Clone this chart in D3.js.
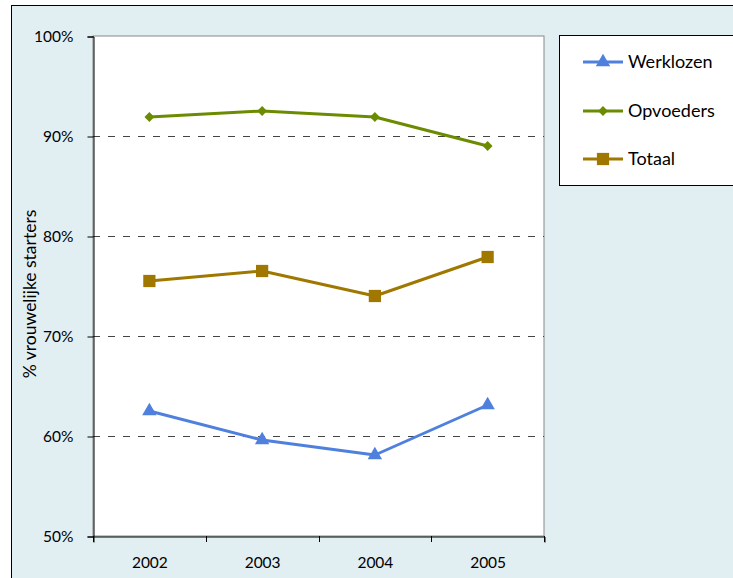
<!DOCTYPE html>
<html><head><meta charset="utf-8">
<script src="https://cdn.jsdelivr.net/npm/d3@7"></script>
<style>body{margin:0;background:#fff;font-family:Lato,"Open Sans",sans-serif;}</style>
</head><body>
<svg id="c" width="733" height="578"></svg>
<script>
const years = ["2002","2003","2004","2005"];
const werklozen = [62.5, 59.6, 58.1, 63.1];
const opvoeders = [91.9, 92.5, 91.9, 89.0];
const totaal = [75.5, 76.5, 74.0, 77.9];
const yTicks = [50, 60, 70, 80, 90, 100];
const seriesNames = ["Werklozen", "Opvoeders", "Totaal"];
const seriesColors = ["#4f80de", "#6b8c00", "#a07800"];
const seriesValues = [werklozen, opvoeders, totaal];
const markerTypes = [d3.symbolTriangle, d3.symbolSquare, d3.symbolSquare];
const markerRot = [0, 45, 0];
const markerSizes = [90, 48, 150];

const svg = d3.select("#c");
svg.append("rect").attr("x",11.5).attr("y",5.5).attr("width",740).attr("height",590)
  .attr("fill","#e1eef2").attr("stroke","#000").attr("stroke-width",1);

const L = 93, R = 544, T = 36, B = 536;
const x = d3.scaleBand().domain(years).range([L, R]);
const y = d3.scaleLinear().domain([50, 100]).range([B, T]);

svg.append("rect").attr("x",L).attr("y",T).attr("width",R-L).attr("height",B-T)
  .attr("fill","#fff").attr("stroke","#888").attr("stroke-width",1);

svg.append("g").selectAll("line").data(yTicks.filter(d=>d>50&&d<100)).join("line")
  .attr("x1",L).attr("x2",R).attr("y1",d=>y(d)+0.5).attr("y2",d=>y(d)+0.5)
  .attr("stroke","#444").attr("stroke-width",1).attr("stroke-dasharray","7,8");

const fmt = d=>d+"%";
const yAxis = svg.append("g").attr("transform",`translate(${L+0.5},0.5)`)
  .call(d3.axisLeft(y).tickValues(yTicks).tickFormat(fmt).tickSize(6).tickPadding(14));
yAxis.select(".domain").attr("stroke","#000");
yAxis.selectAll("text").attr("font-size",15.5).attr("fill","#000").attr("font-family","Lato, sans-serif");

const xAxis = svg.append("g").attr("transform",`translate(0.5,${B+0.5})`)
  .call(d3.axisBottom(x).tickSize(6).tickPadding(14));
xAxis.selectAll(".tick line").remove();
xAxis.selectAll("text").attr("font-size",15.5).attr("fill","#000").attr("font-family","Lato, sans-serif");
xAxis.select(".domain").attr("stroke","#000");
const edges = [L, ...years.map(d=>x(d)+x.bandwidth())];
svg.append("g").selectAll("line").data(edges).join("line")
  .attr("x1",d=>Math.round(d)+0.5).attr("x2",d=>Math.round(d)+0.5)
  .attr("y1",B).attr("y2",B+6).attr("stroke","#000");

svg.append("text").attr("transform",`translate(36,${(T+B)/2+8}) rotate(-90)`)
  .attr("text-anchor","middle").attr("font-size",17.5).attr("font-family","Lato, sans-serif")
  .text("% vrouwelijke starters");

const line = d3.line().x((d,i)=>x(years[i])+x.bandwidth()/2).y(d=>y(d));
seriesValues.forEach((vals,k)=>{
  svg.append("path").datum(vals).attr("d",line).attr("fill","none")
    .attr("stroke",seriesColors[k]).attr("stroke-width",3).attr("stroke-linejoin","round");
  svg.append("g").selectAll("path").data(vals).join("path")
    .attr("transform",(d,i)=>`translate(${x(years[i])+x.bandwidth()/2},${y(d)}) rotate(${markerRot[k]})`)
    .attr("d",d3.symbol().type(markerTypes[k]).size(markerSizes[k]))
    .attr("fill",seriesColors[k]);
});

const lg = svg.append("g");
lg.append("rect").attr("x",559.5).attr("y",35.5).attr("width",200).attr("height",150)
  .attr("fill","#fff").attr("stroke","#000");
const rowsY = [62, 111, 159];
seriesNames.forEach((n,k)=>{
  lg.append("line").attr("x1",583).attr("x2",623).attr("y1",rowsY[k]).attr("y2",rowsY[k])
    .attr("stroke",seriesColors[k]).attr("stroke-width",3);
  lg.append("path").attr("transform",`translate(603,${rowsY[k]}) rotate(${markerRot[k]})`)
    .attr("d",d3.symbol().type(markerTypes[k]).size(markerSizes[k])).attr("fill",seriesColors[k]);
  lg.append("text").attr("x",628).attr("y",rowsY[k]).attr("dy","0.35em")
    .attr("font-size",18).attr("font-family","Lato, sans-serif").text(n);
});
</script>
</body></html>
